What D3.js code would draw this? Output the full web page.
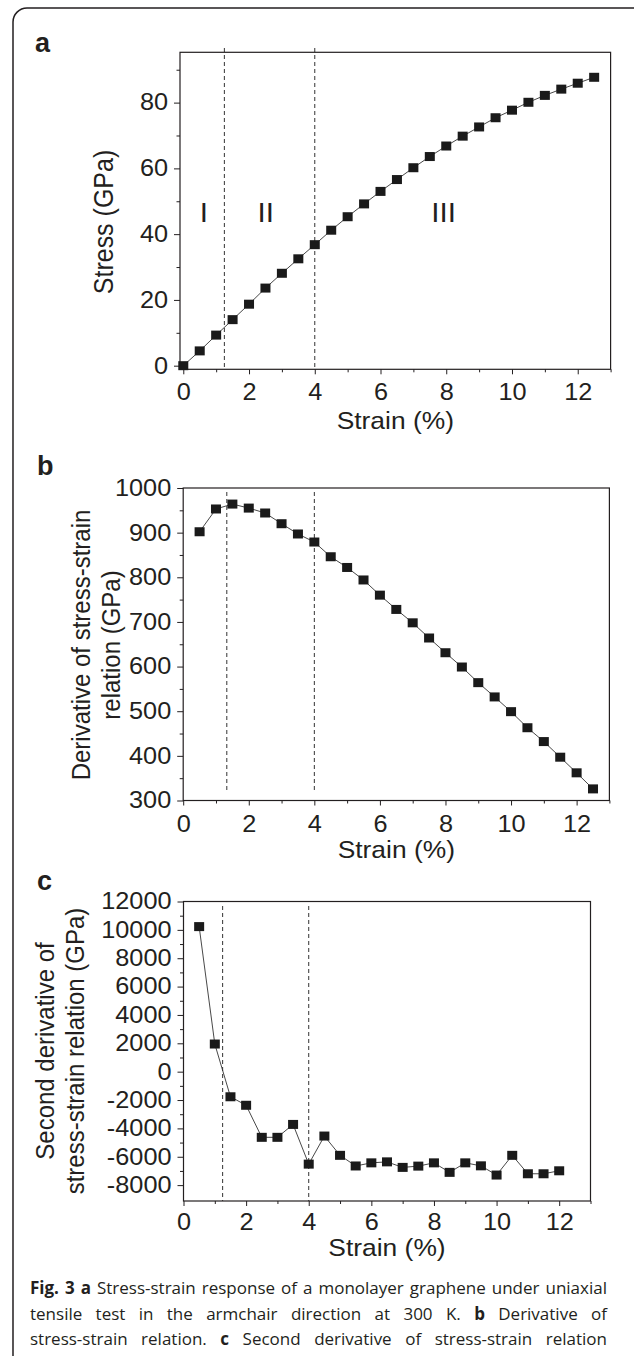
<!DOCTYPE html>
<html>
<head>
<meta charset="utf-8">
<script src="https://cdn.jsdelivr.net/npm/d3@7"></script>
<style>
  html, body { margin: 0; padding: 0; background: #fff; }
  svg text { font-family: "Liberation Sans", Arial, Helvetica, sans-serif; fill: #231f20; }
  .cap text { font-family: "Open Sans", "Noto Sans", sans-serif; }
</style>
</head>
<body>
<svg id="fig" width="634" height="1356"></svg>
<script>
// ---- values ----
const strainA = [0, 0.5, 1, 1.5, 2, 2.5, 3, 3.5, 4, 4.5, 5, 5.5, 6, 6.5, 7, 7.5, 8, 8.5, 9, 9.5, 10, 10.5, 11, 11.5, 12, 12.5];
const stressA = [0, 4.5, 9.3, 14.0, 18.7, 23.6, 28.1, 32.5, 36.8, 41.2, 45.3, 49.2, 53.0, 56.6, 60.2, 63.6, 66.8, 69.8, 72.6, 75.4, 77.7, 80.1, 82.2, 84.1, 85.9, 87.7];

const strainB = [0.5, 1, 1.5, 2, 2.5, 3, 3.5, 4, 4.5, 5, 5.5, 6, 6.5, 7, 7.5, 8, 8.5, 9, 9.5, 10, 10.5, 11, 11.5, 12, 12.5];
const derivB  = [902, 953, 964, 955, 944, 920, 897, 879, 846, 822, 794, 760, 728, 698, 664, 631, 599, 564, 532, 499, 463, 432, 397, 362, 326];

const strainC = [0.5, 1, 1.5, 2, 2.5, 3, 3.5, 4, 4.5, 5, 5.5, 6, 6.5, 7, 7.5, 8, 8.5, 9, 9.5, 10, 10.5, 11, 11.5, 12];
const deriv2C = [10230, 1950, -1770, -2370, -4630, -4630, -3720, -6520, -4540, -5900, -6650, -6430, -6360, -6750, -6660, -6430, -7100, -6430, -6640, -7290, -5900, -7200, -7200, -6990];

// region boundaries (dashed lines), strain %
const boundsA = [1.25, 4];
const boundsB = [1.33, 4];
const boundsC = [1.25, 4];

// region labels in panel a
const regionNames  = ['I', 'II', 'III'];
const regionStrain = [0.63, 2.51, 7.92];
const regionStress = 43.8;

// tick values
const xMajor  = [0, 2, 4, 6, 8, 10, 12];
const xMinor  = [1, 3, 5, 7, 9, 11, 13];
const yMajorA = [0, 20, 40, 60, 80];
const yMinorA = [10, 30, 50, 70, 90];
const yMajorB = [300, 400, 500, 600, 700, 800, 900, 1000];
const yMinorB = [350, 450, 550, 650, 750, 850, 950];
const yMajorC = [-8000, -6000, -4000, -2000, 0, 2000, 4000, 6000, 8000, 10000, 12000];
const yMinorC = [-7000, -5000, -3000, -1000, 1000, 3000, 5000, 7000, 9000, 11000];

const xTitle = 'Strain (%)';
const yTitleA = ['Stress (GPa)'];
const yTitleB = ['Derivative of stress-strain', 'relation (GPa)'];
const yTitleC = ['Second derivative of', 'stress-strain relation (GPa)'];

const captionLines = [
  [['Fig. 3 a', true], ['Stress-strain response of a monolayer graphene under uniaxial', false]],
  [['tensile test in the armchair direction at 300 K.', false], ['b', true], ['Derivative of', false]],
  [['stress-strain relation.', false], ['c', true], ['Second derivative of stress-strain relation', false]]
];

// ---- drawing ----
const SX = 1.1;          // the figure text is slightly wide
const INK = '#231f20';
const svg = d3.select('#fig');

// outer rounded frame (runs off the right and bottom)
svg.append('rect')
  .attr('x', 13).attr('y', 8)
  .attr('width', 640).attr('height', 1370)
  .attr('rx', 14)
  .attr('fill', 'none').attr('stroke', INK).attr('stroke-width', 1.5);

function stretchText(sel) {
  sel.selectAll('text').each(function () {
    const t = d3.select(this);
    const x0 = +(t.attr('x') || 0);
    t.attr('x', x0 / SX).attr('transform', `scale(${SX},1)`);
  });
}

function drawPanel(p) {
  const g = svg.append('g');
  const x = d3.scaleLinear().domain(p.xDomain).range([p.left, p.right]);
  const y = d3.scaleLinear().domain(p.yDomain).range([p.bottom, p.top]);

  // dashed boundaries
  g.selectAll('line.bound')
    .data(p.bounds)
    .join('line')
      .attr('class', 'bound')
      .attr('x1', d => x(d)).attr('x2', d => x(d))
      .attr('y1', p.dashTop).attr('y2', p.dashBottom)
      .attr('stroke', '#333').attr('stroke-width', 1)
      .attr('stroke-dasharray', '4,3');

  // axes
  const fmt = d => String(d);
  const xa = g.append('g')
    .attr('transform', `translate(0,${p.bottom})`)
    .call(d3.axisBottom(x).tickValues(xMajor).tickSize(5).tickPadding(p.xPad).tickFormat(fmt));
  g.append('g')
    .attr('transform', `translate(0,${p.bottom})`)
    .call(d3.axisBottom(x).tickValues(xMinor).tickSize(3).tickFormat(''));
  const ya = g.append('g')
    .attr('transform', `translate(${p.left},0)`)
    .call(d3.axisLeft(y).tickValues(p.yMajor).tickSize(6).tickPadding(6).tickFormat(fmt));
  g.append('g')
    .attr('transform', `translate(${p.left},0)`)
    .call(d3.axisLeft(y).tickValues(p.yMinor).tickSize(3.5).tickFormat(''));

  g.selectAll('.domain').remove();
  g.selectAll('.tick line').attr('stroke', INK);
  [xa, ya].forEach(a => a.attr('font-size', 23).attr('font-family', null));
  stretchText(xa);
  stretchText(ya);

  // box
  g.append('rect')
    .attr('x', p.left).attr('y', p.top)
    .attr('width', p.right - p.left).attr('height', p.bottom - p.top)
    .attr('fill', 'none').attr('stroke', INK).attr('stroke-width', 1.2);

  // series
  const pts = d3.zip(p.xs, p.ys);
  g.append('path')
    .datum(pts)
    .attr('d', d3.line().x(d => x(d[0])).y(d => y(d[1])))
    .attr('fill', 'none').attr('stroke', '#333').attr('stroke-width', 0.9);
  g.selectAll('rect.pt')
    .data(pts)
    .join('rect')
      .attr('class', 'pt')
      .attr('x', d => x(d[0]) - 5).attr('y', d => y(d[1]) - 4.5)
      .attr('width', 10).attr('height', 9)
      .attr('fill', '#1a1a1a');

  // x title
  g.append('text')
    .attr('transform', `translate(${(p.left + p.right) / 2},${p.xTitleY}) scale(${SX},1)`)
    .attr('text-anchor', 'middle')
    .attr('font-size', 24)
    .text(xTitle);

  // y title (one or two lines)
  p.yTitle.forEach((line, i) => {
    g.append('text')
      .attr('transform', `translate(${p.yTitleX[i]},${p.yTitleMid}) scale(${SX},1) rotate(-90)`)
      .attr('text-anchor', 'middle')
      .attr('font-size', p.yTitleSize)
      .text(line);
  });

  // panel letter
  g.append('text')
    .attr('x', p.letterX).attr('y', p.letterY)
    .attr('font-size', 27).attr('font-weight', 'bold')
    .text(p.letter);

  return { g, x, y };
}

const A = drawPanel({
  letter: 'a', letterX: 35, letterY: 52,
  left: 180, right: 610.6, top: 52.3, bottom: 369.3,
  xDomain: [-0.1, 13], yDomain: [-1.1, 95.3],
  yMajor: yMajorA, yMinor: yMinorA,
  xs: strainA, ys: stressA, bounds: boundsA,
  dashTop: 48, dashBottom: 369.3, xPad: 9,
  xTitleY: 429, yTitle: yTitleA, yTitleX: [113], yTitleMid: 222, yTitleSize: 25
});

// region labels I / II / III
A.g.selectAll('text.region')
  .data(d3.zip(regionNames, regionStrain))
  .join('text')
    .attr('class', 'region')
    .attr('transform', d => `translate(${A.x(d[1])},${A.y(regionStress)}) scale(${SX},1)`)
    .attr('text-anchor', 'middle')
    .attr('font-size', 27)
    .text(d => d[0]);

drawPanel({
  letter: 'b', letterX: 37, letterY: 475,
  left: 183.2, right: 609.4, top: 488, bottom: 800.5,
  xDomain: [0, 13], yDomain: [300, 1000],
  yMajor: yMajorB, yMinor: yMinorB,
  xs: strainB, ys: derivB, bounds: boundsB,
  dashTop: 492, dashBottom: 793, xPad: 10.5,
  xTitleY: 858, yTitle: yTitleB, yTitleX: [90, 119.5], yTitleMid: 645, yTitleSize: 24
});

drawPanel({
  letter: 'c', letterX: 37, letterY: 890,
  left: 183.5, right: 590.5, top: 901.5, bottom: 1201,
  xDomain: [0, 13], yDomain: [-9120, 12000],
  yMajor: yMajorC, yMinor: yMinorC,
  xs: strainC, ys: deriv2C, bounds: boundsC,
  dashTop: 906, dashBottom: 1201, xPad: 7.5,
  xTitleY: 1255.5, yTitle: yTitleC, yTitleX: [54, 84], yTitleMid: 1051, yTitleSize: 24
});

// ---- caption, justified between capLeft and capRight ----
const capLeft = 30, capRight = 607;
const capBase = [1294, 1319.5, 1345];
const cap = svg.append('g').attr('class', 'cap');

captionLines.forEach((parts, li) => {
  const words = [];
  parts.forEach(([txt, bold]) => txt.split(' ').forEach(w => words.push({ w, bold })));
  const line = cap.append('g');
  const nodes = words.map(d => line.append('text')
    .attr('y', capBase[li])
    .attr('font-size', 17)
    .attr('font-weight', d.bold ? 'bold' : 'normal')
    .text(d.w));
  const widths = nodes.map(n => n.node().getComputedTextLength());
  const sum = d3.sum(widths);
  const target = capRight - capLeft;
  const minGap = 4;
  let k = 1, gap = (target - sum) / (words.length - 1);
  if (gap < minGap) { k = target / (sum + minGap * (words.length - 1)); gap = minGap; }
  let cx = 0;
  nodes.forEach((n, i) => { n.attr('x', cx); cx += widths[i] + gap; });
  line.attr('transform', `translate(${capLeft},0) scale(${k},1)`);
});
</script>
</body>
</html>
